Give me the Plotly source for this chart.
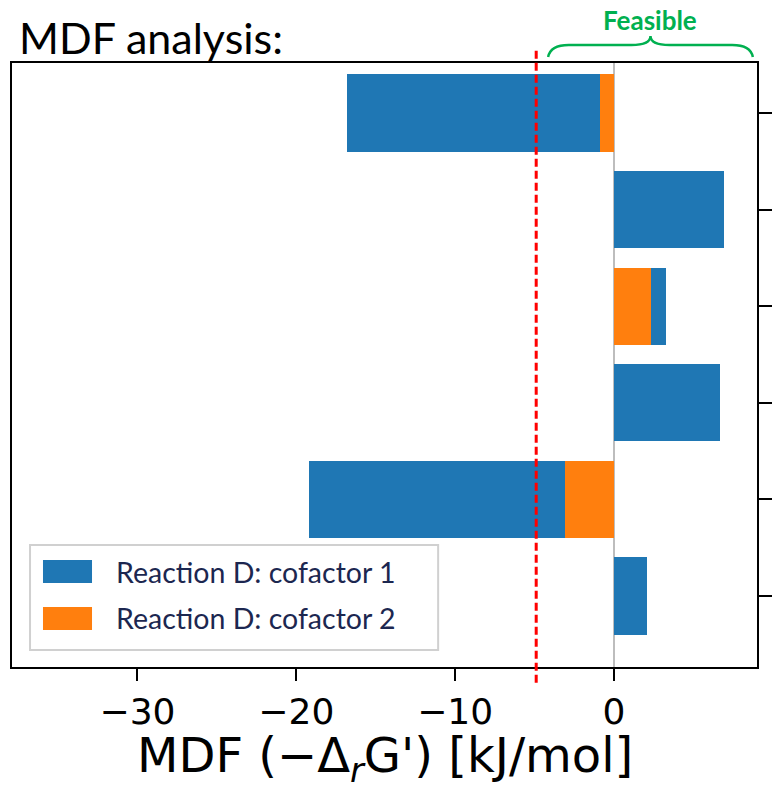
import plotly.graph_objects as go

# ---- data ----
rows = [0, 1, 2, 3, 4, 5]
series_names = ["Reaction D: cofactor 1", "Reaction D: cofactor 2"]
series_colors = ["#1f77b4", "#ff7f0e"]
cofactor1 = [-16.8, 6.9, 3.3, 6.7, -19.2, 2.1]
cofactor2 = [-0.9, None, 2.3, None, -3.1, None]
threshold = -4.9
x_ticks = [-30, -20, -10, 0]
x_ticktext = ["\u221230", "\u221220", "\u221210", "0"]
x_title = "MDF (\u2212\u0394<sub><i>r</i></sub>G') [kJ/mol]"

fig = go.Figure()
for name, color, vals in zip(series_names, series_colors, [cofactor1, cofactor2]):
    fig.add_trace(go.Bar(
        x=vals, y=rows, orientation="h", name=name, width=0.8,
        marker=dict(color=color, line=dict(width=0)), showlegend=False,
    ))

# threshold line
fig.add_shape(type="line", xref="x", yref="paper", x0=threshold, x1=threshold,
              y0=-0.026, y1=1.025, line=dict(color="#ff0000", width=3, dash="8px,4px"),
              layer="above")

# brace over feasible region
bx0, bx1 = -4.15, 8.74
bm = (bx0 + bx1) / 2
yb, ym, yp = 1.0099, 1.0298, 1.0447
path = (f"M {bx0},{yb} Q {bx0+0.15},{ym} {bx0+1.3},{ym} L {bm-1.2},{ym} "
        f"Q {bm},{ym} {bm},{yp} Q {bm},{ym} {bm+1.2},{ym} L {bx1-1.3},{ym} "
        f"Q {bx1-0.15},{ym} {bx1},{yb}")
fig.add_shape(type="path", xref="x", yref="paper", path=path,
              line=dict(color="#00b050", width=2.5))
fig.add_annotation(x=bm, xref="x", y=1.071, yref="paper", text="<b>Feasible</b>",
                   showarrow=False, xanchor="center", yanchor="middle",
                   font=dict(family="Lato", size=26, color="#00b050"))

# title
fig.add_annotation(x=0.007, xref="paper", y=1.043, yref="paper", text="MDF analysis:",
                   showarrow=False, xanchor="left", yanchor="middle",
                   font=dict(family="Lato", size=43, color="black"))

# x-axis title
fig.add_annotation(x=0.5, xref="paper", y=-0.151, yref="paper", text=x_title,
                   showarrow=False, xanchor="center", yanchor="middle",
                   font=dict(family="DejaVu Sans", size=48, color="black"))

# custom legend
lx0, lx1, ly0, ly1 = 0.0242, 0.572, 0.0281, 0.202
fig.add_shape(type="rect", xref="paper", yref="paper", x0=lx0, x1=lx1, y0=ly0, y1=ly1,
              line=dict(color="#d0d0d0", width=2), fillcolor="rgba(255,255,255,0.9)")
sw_y = [(0.139, 0.177), (0.0613, 0.0993)]
for (y0, y1), name, color in zip(sw_y, series_names, series_colors):
    fig.add_shape(type="rect", xref="paper", yref="paper", x0=0.0416, x1=0.1074,
                  y0=y0, y1=y1, fillcolor=color, line=dict(width=0))
    fig.add_annotation(x=0.1375, xref="paper", y=(y0 + y1) / 2, yref="paper", text=name,
                       showarrow=False, xanchor="left", yanchor="middle",
                       font=dict(family="Lato", size=28.5, color="#1c2750"))

fig.update_layout(
    width=777, height=788,
    margin=dict(l=12, r=20, t=63, b=121),
    paper_bgcolor="white", plot_bgcolor="white",
    barmode="overlay", bargap=0,
    showlegend=False,
    xaxis=dict(
        range=[-37.9, 9.0], tickvals=x_ticks, ticktext=x_ticktext,
        ticks="outside", ticklen=12, tickwidth=2, tickcolor="black",
        showline=True, mirror=True, linecolor="black", linewidth=2,
        showgrid=False, zeroline=True, zerolinecolor="#bdbdbd", zerolinewidth=2,
        tickfont=dict(family="DejaVu Sans", size=36, color="black"),
        automargin=False,
    ),
    yaxis=dict(
        range=[5.735, -0.518], tickvals=rows, showticklabels=False, side="right",
        ticks="outside", ticklen=13, tickwidth=2, tickcolor="black",
        showline=True, mirror=True, linecolor="black", linewidth=2,
        showgrid=False, zeroline=False, automargin=False,
    ),
)

fig.write_html("out.html")
